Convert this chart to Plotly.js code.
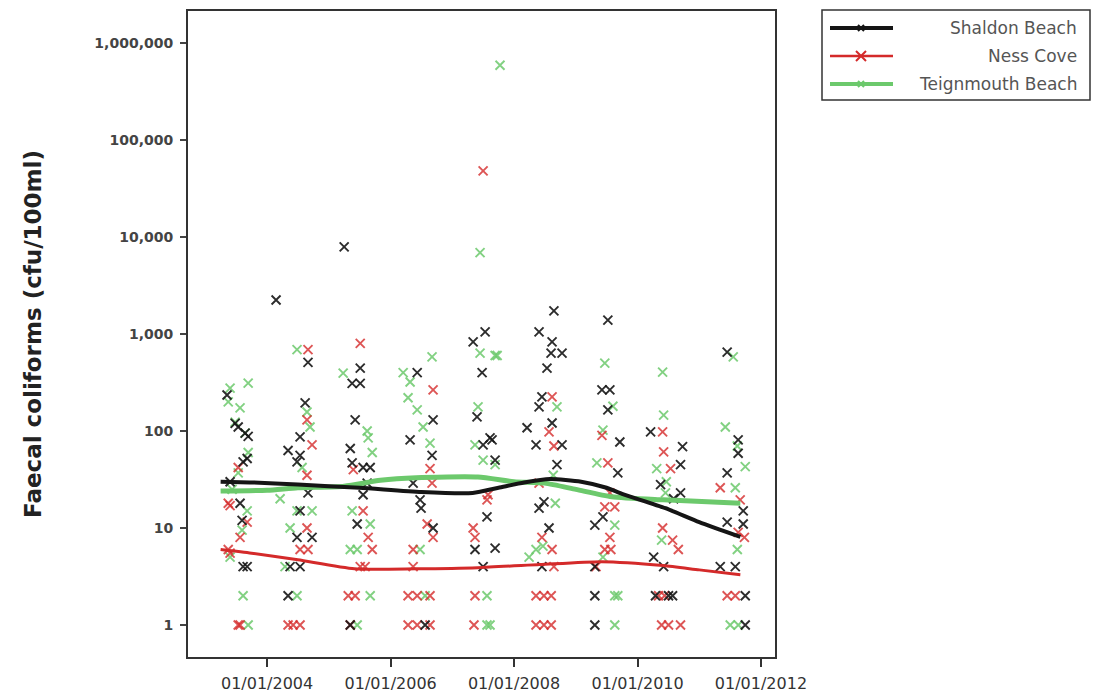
<!DOCTYPE html>
<html>
<head>
<meta charset="utf-8">
<script src="https://cdn.plot.ly/plotly-3.0.1.min.js"></script>
<style>
html,body{margin:0;padding:0;background:#fff;}
#chart{width:1097px;height:695px;}
</style>
</head>
<body>
<div id="chart"></div>
<script>
// ---------------- DATA ----------------
const seriesNames = ["Shaldon Beach", "Ness Cove", "Teignmouth Beach"];

const yTickVals = [1, 10, 100, 1000, 10000, 100000, 1000000];
const yTickText = ["1", "10", "100", "1,000", "10,000", "100,000", "1,000,000"];
const xTickVals = ["2004-01-01", "2006-01-01", "2008-01-01", "2010-01-01", "2012-01-01"];
const xTickText = ["01/01/2004", "01/01/2006", "01/01/2008", "01/01/2010", "01/01/2012"];

// Shaldon Beach samples (cfu/100ml)
const shaldonDates = [
 "2003-05-09","2003-06-26","2003-07-14","2003-08-24","2003-09-11","2003-09-05","2003-08-12","2003-05-27","2003-07-25","2003-08-06","2003-09-05","2003-08-12",
 "2004-02-23","2004-08-30","2004-08-13","2004-07-14","2004-05-04","2004-07-14","2004-06-26","2004-08-30","2004-07-14","2004-06-26","2004-09-23","2004-05-16","2004-07-14","2004-05-04",
 "2005-04-01","2005-07-05","2005-05-18","2005-07-05","2005-06-05","2005-05-07","2005-05-18","2005-09-02","2005-07-22","2005-08-15","2005-07-22","2005-06-17","2005-05-07",
 "2006-06-07","2006-09-09","2006-04-26","2006-09-03","2006-05-14","2006-06-24","2006-06-30","2006-09-09","2006-07-24",
 "2007-07-14","2007-05-04","2007-06-26","2007-05-27","2007-08-12","2007-07-02","2007-08-24","2007-09-11","2007-07-25","2007-05-15","2007-09-11","2007-07-02",
 "2008-08-24","2008-05-28","2008-08-13","2008-08-07","2008-10-11","2008-07-14","2008-06-14","2008-05-28","2008-08-13","2008-03-18","2008-05-10","2008-10-11","2008-09-11","2008-06-26","2008-05-28","2008-07-26","2008-06-14",
 "2009-07-09","2009-06-04","2009-07-21","2009-07-09","2009-09-18","2009-09-06","2009-06-10","2009-04-23","2009-04-23","2009-04-23","2009-04-23",
 "2010-03-19","2010-09-24","2010-09-12","2010-05-17","2010-09-12","2010-08-02","2010-04-06","2010-06-04","2010-04-17","2010-07-03","2010-07-27",
 "2011-06-15","2011-08-19","2011-08-19","2011-06-15","2011-09-18","2011-06-15","2011-09-18","2011-05-05","2011-08-02","2011-09-30","2011-09-30"
];
const shaldonValues = [
 235,120,110,95,88,52,48,30,18,12,4,4,
 2240,510,195,87,63,56,48,23,15,8,8,4,4,2,
 7900,445,310,310,130,66,47,42,42,29,22,11,1,
 400,130,81,56,29,19.5,16,10,1,
 1050,830,400,140,85,72,81,50,13,6,6.2,4,
 1730,1050,830,635,635,445,225,177,121,108,72,72,45,18.6,16,10,4,
 1390,265,265,165,77,37,13,10.7,4,2,1,
 98,69,45,28,23,20,5,4,2,2,2,
 650,81,59,37,15,11.5,11,4,4,2,1
];

// Ness Cove samples
const nessDates = [
 "2003-05-16","2003-05-27","2003-07-14","2003-09-05","2003-07-25","2003-05-16","2003-05-27","2003-07-25","2003-07-14",
 "2004-08-30","2004-08-24","2004-09-23","2004-08-24","2004-08-24","2004-07-14","2004-08-30","2004-05-04","2004-07-14","2004-06-03",
 "2005-07-05","2005-05-25","2005-07-22","2005-08-21","2005-09-14","2005-07-05","2005-08-03","2005-04-25","2005-06-05","2005-05-07",
 "2006-09-09","2006-08-22","2006-09-03","2006-08-05","2006-09-09","2006-05-14","2006-05-14","2006-04-14","2006-06-07","2006-08-22","2006-04-14","2006-06-07","2006-08-22",
 "2007-07-02","2007-07-25","2007-07-31","2007-05-04","2007-05-15","2007-05-15","2007-05-09",
 "2008-08-13","2008-07-26","2008-08-24","2008-05-28","2008-06-14","2008-08-13","2008-08-24","2008-05-10","2008-06-26","2008-08-08","2008-05-10","2008-06-26","2008-08-08",
 "2009-06-04","2009-07-09","2009-07-21","2009-06-21","2009-08-19","2009-07-21","2009-06-21","2009-07-27","2009-04-30",
 "2010-05-29","2010-06-04","2010-07-15","2010-05-29","2010-07-27","2010-08-30","2010-05-05","2010-06-10","2010-05-23","2010-07-03","2010-09-12",
 "2011-05-05","2011-08-31","2011-08-19","2011-09-25","2011-06-15","2011-08-02"
];
const nessValues = [
 18,17,42,11.5,8,6,5.5,1,1,
 690,130,72,35,10,6,6,1,1,1,
 800,40,15,8,6,4,4,2,2,1,
 265,41,29,11,8,6,4,2,2,2,1,1,1,
 48000,19.5,22,10,8,2,1,
 225,98,70,29,8,6,4,2,2,2,1,1,1,
 90,47,23,16.5,16.5,8,6,6,4,
 98,61,41,10,7.5,6,2,2,1,1,1,
 26,19.5,9,8,2,2
];

// Teignmouth Beach samples
const teignDates = [
 "2003-05-27","2003-09-11","2003-05-16","2003-07-25","2003-06-26","2003-08-24","2003-09-11","2003-07-14","2003-06-08","2003-09-05","2003-08-06","2003-05-27","2003-08-12","2003-09-11",
 "2004-06-26","2004-08-24","2004-09-11","2004-07-26","2004-03-18","2004-06-26","2004-09-23","2004-05-16","2004-04-16","2004-06-26",
 "2005-03-26","2005-08-15","2005-08-21","2005-09-14","2005-05-18","2005-09-02","2005-05-07","2005-06-17","2005-09-02","2005-06-17",
 "2006-09-03","2006-03-16","2006-04-26","2006-04-14","2006-06-07","2006-07-12","2006-08-22","2006-06-24","2006-07-24",
 "2007-10-10","2007-06-14","2007-06-14","2007-09-11","2007-09-23","2007-06-02","2007-05-15","2007-07-02","2007-09-11","2007-07-25","2007-07-25","2007-08-12",
 "2008-09-11","2008-08-20","2008-09-01","2008-06-20","2008-05-10","2008-03-30",
 "2009-06-21","2009-08-08","2009-06-10","2009-05-05","2009-08-19","2009-06-10","2009-08-19","2009-09-06","2009-08-19",
 "2010-05-29","2010-06-04","2010-04-24","2010-06-20","2010-06-15","2010-05-23",
 "2011-07-21","2011-06-04","2011-08-14","2011-09-30","2011-08-02","2011-08-14","2011-07-03","2011-08-20"
];
const teignValues = [
 277,311,200,173,123,95,60,37,25,15,9.5,5,2,1,
 690,157,110,42,20,15,15,10,4,2,
 395,100,85,60,15,11,6,6,2,1,
 580,400,320,220,165,110,75,6,2,
 590000,6900,635,600,600,177,72,50,45,2,1,1,
 177,35,18,6.5,6,5,
 500,180,102,47,10.7,5,2,2,1,
 405,146,41,30,23,7.5,
 580,110,70,43,26,6,1,1
];

// Smoothed trend lines
const shaldonTrendDates = ["2003-04-01","2003-10-01","2004-07-01","2005-07-01","2006-07-01","2007-05-01","2007-10-01","2008-03-01","2008-08-01","2009-02-01","2009-07-01","2009-10-01","2010-06-15","2011-01-01","2011-09-01"];
const shaldonTrendValues = [30,29.5,28,26,23.5,23,26,29.5,32,30,26,22.5,16,11.5,8.1];
const nessTrendDates = ["2003-04-01","2003-10-01","2004-07-01","2005-06-01","2006-06-01","2007-06-01","2008-06-01","2009-06-01","2010-06-01","2011-01-01","2011-09-01"];
const nessTrendValues = [6,5.5,4.7,3.8,3.8,3.9,4.2,4.5,4.1,3.7,3.3];
const teignTrendDates = ["2003-04-01","2004-01-01","2004-07-01","2005-04-01","2005-11-01","2006-06-01","2007-06-01","2008-01-01","2008-07-01","2009-01-01","2009-08-01","2010-06-01","2011-09-01"];
const teignTrendValues = [24,24.5,26,27,31,33,33.5,30,29,25,21,19.5,18];

// ---------------- STYLE ----------------
const colBlack = "#151515";
const colRed = "#d42a2a";
const colGreen = "#6cc96c";

function pts(x, y, color, op) {
  return {x: x, y: y, type: "scatter", mode: "markers", showlegend: false, hoverinfo: "skip",
    marker: {symbol: "x-thin-open", size: 9, color: color, opacity: op, line: {color: color, width: 1.9}}};
}
function trend(x, y, color, w) {
  return {x: x, y: y, type: "scatter", mode: "lines", showlegend: false, hoverinfo: "skip",
    line: {color: color, width: w, shape: "spline", smoothing: 0.6}};
}

const data = [
  pts(teignDates, teignValues, colGreen, 0.85),
  pts(nessDates, nessValues, colRed, 0.8),
  pts(shaldonDates, shaldonValues, colBlack, 0.9),
  trend(teignTrendDates, teignTrendValues, colGreen, 5),
  trend(shaldonTrendDates, shaldonTrendValues, colBlack, 4),
  trend(nessTrendDates, nessTrendValues, colRed, 3)
];

// custom legend (paper coordinates)
const PL = 188, PW = 587, PB = 657, PH = 646;
const px = v => (v - PL) / PW;
const py = v => (PB - v) / PH;
const legendRows = [28, 56, 84];
const legendCols = [colBlack, colRed, colGreen];
const legendW = [4, 2.5, 4];
const shapes = [
  {type: "rect", xref: "paper", yref: "paper", x0: px(822), x1: px(1090), y0: py(100), y1: py(10),
   line: {color: "#333", width: 1.5}, fillcolor: "rgba(0,0,0,0)"}
];
const annotations = [];
legendRows.forEach((r, i) => {
  shapes.push({type: "line", xref: "paper", yref: "paper", x0: px(830), x1: px(893), y0: py(r), y1: py(r),
    line: {color: legendCols[i], width: legendW[i]}});
  const s = i === 1 ? 5 : 3;
  shapes.push({type: "path", xref: "paper", yref: "paper",
    path: `M ${px(861 - s)} ${py(r - s)} L ${px(861 + s)} ${py(r + s)} M ${px(861 - s)} ${py(r + s)} L ${px(861 + s)} ${py(r - s)}`,
    line: {color: legendCols[i], width: 2}});
  annotations.push({xref: "paper", yref: "paper", x: px(1079), y: py(r), xanchor: "right", yanchor: "middle",
    showarrow: false, text: seriesNames[i], font: {family: "DejaVu Sans", size: 17, color: "#555"}});
});

const layout = {
  width: 1097, height: 695,
  margin: {l: PL, r: 1097 - 775, t: 11, b: 695 - PB},
  paper_bgcolor: "#fff", plot_bgcolor: "#fff",
  showlegend: false,
  xaxis: {
    type: "date", range: ["2002-09-20", "2012-03-24"],
    tickvals: xTickVals, ticktext: xTickText,
    ticks: "outside", ticklen: 8, tickwidth: 2, tickcolor: "#333",
    ticklabelstandoff: 3,
    showline: true, mirror: true, linecolor: "#333", linewidth: 2,
    showgrid: false, zeroline: false,
    tickfont: {family: "DejaVu Sans", size: 16, color: "#333"}
  },
  yaxis: {
    type: "log", range: [-0.33, 6.33],
    tickvals: yTickVals, ticktext: yTickText,
    ticks: "outside", ticklen: 6, tickwidth: 1.5, tickcolor: "#444",
    ticklabelstandoff: 4,
    showline: true, mirror: true, linecolor: "#333", linewidth: 2,
    showgrid: false, zeroline: false,
    tickfont: {family: "DejaVu Sans", size: 14, color: "#444", weight: "bold"},
    title: {text: "Faecal coliforms (cfu/100ml)", standoff: 46,
      font: {family: "DejaVu Sans", size: 23, color: "#222", weight: "bold"}}
  },
  shapes: shapes,
  annotations: annotations
};

Plotly.newPlot("chart", data, layout, {staticPlot: true, displayModeBar: false});
</script>
</body>
</html>
